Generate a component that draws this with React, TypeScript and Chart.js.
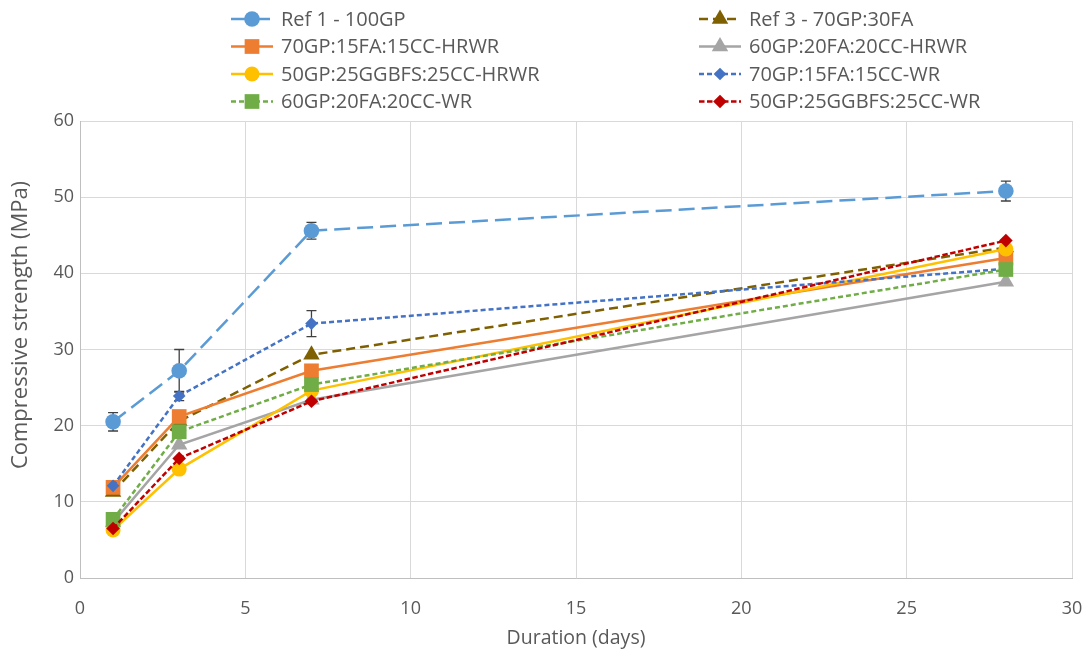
import React, { useEffect, useRef } from 'react';
import { Chart, registerables } from 'chart.js';

Chart.register(...registerables);

// ---------- data ----------
const days = [1, 3, 7, 28];

const seriesNames = [
  'Ref 1 - 100GP',
  'Ref 3 - 70GP:30FA',
  '70GP:15FA:15CC-HRWR',
  '60GP:20FA:20CC-HRWR',
  '50GP:25GGBFS:25CC-HRWR',
  '70GP:15FA:15CC-WR',
  '60GP:20FA:20CC-WR',
  '50GP:25GGBFS:25CC-WR',
];

const ref1 = [20.5, 27.2, 45.6, 50.8];
const ref1Err = [1.2, 2.8, 1.1, 1.3];
const ref3 = [11.3, 20.6, 29.3, 43.4];
const hrwr70 = [11.9, 21.2, 27.2, 42.0];
const hrwr60 = [7.3, 17.5, 23.4, 38.9];
const hrwr50 = [6.3, 14.3, 24.6, 43.2];
const wr70 = [12.1, 23.9, 33.4, 40.6];
const wr70Err = [0.4, 0.6, 1.7, 0.5];
const wr60 = [7.7, 19.2, 25.4, 40.5];
const wr50 = [6.5, 15.7, 23.2, 44.3];

const xTickMax = 30;
const xTickStep = 5;
const yTickMax = 60;
const yTickStep = 10;

const xTitle = 'Duration (days)';
const yTitle = 'Compressive strength (MPa)';

const FONT = "'Open Sans', 'Noto Sans', sans-serif";
const TEXT = '#595959';

type Style = {
  color: string;
  dash: number[];
  point: string;
  radius: number;
};

const styles: Style[] = [
  { color: '#5B9BD5', dash: [16, 7], point: 'circle', radius: 7.8 },
  { color: '#7F6000', dash: [9, 5], point: 'triangle', radius: 9.5 },
  { color: '#ED7D31', dash: [], point: 'rect', radius: 10.4 },
  { color: '#A5A5A5', dash: [], point: 'triangle', radius: 9.5 },
  { color: '#FFC000', dash: [], point: 'circle', radius: 7.5 },
  { color: '#4472C4', dash: [5, 3], point: 'rectRot', radius: 6.3 },
  { color: '#70AD47', dash: [5, 3], point: 'rect', radius: 10.4 },
  { color: '#C00000', dash: [5.5, 2.5], point: 'rectRot', radius: 6.8 },
];

const seriesValues = [ref1, ref3, hrwr70, hrwr60, hrwr50, wr70, wr60, wr50];
const seriesErrors: (number[] | null)[] = [ref1Err, null, null, null, null, wr70Err, null, null];

function drawMarker(ctx: CanvasRenderingContext2D, style: string, x: number, y: number, r: number) {
  ctx.beginPath();
  if (style === 'circle') {
    ctx.arc(x, y, r, 0, Math.PI * 2);
  } else if (style === 'rect') {
    const s = r * Math.SQRT1_2;
    ctx.rect(x - s, y - s, 2 * s, 2 * s);
  } else if (style === 'rectRot') {
    ctx.moveTo(x - r, y);
    ctx.lineTo(x, y - r);
    ctx.lineTo(x + r, y);
    ctx.lineTo(x, y + r);
    ctx.closePath();
  } else if (style === 'triangle') {
    const a = (2 * Math.PI) / 3;
    ctx.moveTo(x, y - r);
    ctx.lineTo(x + Math.sin(a) * r, y - Math.cos(a) * r);
    ctx.lineTo(x + Math.sin(2 * a) * r, y - Math.cos(2 * a) * r);
    ctx.closePath();
  }
  ctx.fill();
}

const errorBarPlugin = {
  id: 'errorBars',
  beforeDatasetsDraw(chart: any) {
    const { ctx, scales } = chart;
    const xs = scales.x;
    const ys = scales.y;
    chart.data.datasets.forEach((ds: any) => {
      if (!ds.errorBars) return;
      ctx.save();
      ctx.strokeStyle = '#404040';
      ctx.lineWidth = 1.3;
      ds.data.forEach((pt: any, j: number) => {
        const e = ds.errorBars[j];
        if (!e) return;
        const px = xs.getPixelForValue(pt.x);
        const top = ys.getPixelForValue(pt.y + e);
        const bot = ys.getPixelForValue(pt.y - e);
        ctx.beginPath();
        ctx.moveTo(px, top);
        ctx.lineTo(px, bot);
        ctx.moveTo(px - 5, top);
        ctx.lineTo(px + 5, top);
        ctx.moveTo(px - 5, bot);
        ctx.lineTo(px + 5, bot);
        ctx.stroke();
      });
      ctx.restore();
    });
  },
};

const yTitlePlugin = {
  id: 'yTitle',
  afterDraw(chart: any) {
    const { ctx } = chart;
    ctx.save();
    ctx.translate(21, 325);
    ctx.rotate(-Math.PI / 2);
    ctx.fillStyle = TEXT;
    ctx.font = `22px ${FONT}`;
    ctx.textAlign = 'center';
    ctx.textBaseline = 'middle';
    ctx.fillText(yTitle, 0, 0);
    ctx.restore();
  },
};

const legendPlugin = {
  id: 'gridLegend',
  afterDraw(chart: any) {
    const { ctx } = chart;
    const cols = [
      { x0: 231, x1: 273, tx: 281 },
      { x0: 699, x1: 741, tx: 749 },
    ];
    const rowY = [19, 46.5, 74, 101.5];
    ctx.save();
    chart.data.datasets.forEach((ds: any, i: number) => {
      const c = cols[i % 2];
      const y = rowY[Math.floor(i / 2)];
      const st = styles[i];
      ctx.strokeStyle = st.color;
      ctx.fillStyle = st.color;
      ctx.lineWidth = 2.5;
      ctx.setLineDash(st.dash);
      ctx.beginPath();
      ctx.moveTo(c.x0, y);
      ctx.lineTo(c.x1, y);
      ctx.stroke();
      ctx.setLineDash([]);
      drawMarker(ctx, st.point, (c.x0 + c.x1) / 2, y, st.radius);
      ctx.fillStyle = TEXT;
      ctx.font = `20px ${FONT}`;
      ctx.textBaseline = 'middle';
      ctx.textAlign = 'left';
      ctx.fillText(ds.label, c.tx, y + 1);
    });
    ctx.restore();
  },
};

export default function App() {
  const canvasRef = useRef<HTMLCanvasElement | null>(null);

  useEffect(() => {
    const canvas = canvasRef.current;
    if (!canvas) return;
    const datasets = seriesNames.map((name, i) => {
      const st = styles[i];
      return {
        label: name,
        data: days.map((d, j) => ({ x: d, y: seriesValues[i][j] })),
        errorBars: seriesErrors[i],
        borderColor: st.color,
        backgroundColor: st.color,
        borderWidth: 2.5,
        borderDash: st.dash,
        pointStyle: st.point,
        pointRadius: st.radius,
        pointBorderWidth: 0,
        pointBackgroundColor: st.color,
        pointBorderColor: st.color,
        tension: 0,
        fill: false,
        clip: false,
        order: seriesNames.length - i,
      } as any;
    });

    const chart = new Chart(canvas, {
      type: 'line',
      data: { datasets },
      plugins: [errorBarPlugin, legendPlugin, yTitlePlugin],
      options: {
        animation: false,
        responsive: true,
        maintainAspectRatio: false,
        layout: { padding: { top: 121, right: 17, left: 0, bottom: 0 } },
        plugins: {
          legend: { display: false },
          tooltip: { enabled: false },
        },
        scales: {
          x: {
            type: 'linear',
            min: 0,
            max: xTickMax,
            ticks: {
              stepSize: xTickStep,
              color: TEXT,
              font: { family: FONT, size: 18 },
              padding: 2,
            },
            grid: {
              color: '#D9D9D9',
              lineWidth: 1,
              drawTicks: true,
              tickLength: 18,
              tickColor: 'rgba(0,0,0,0)',
            },
            border: { color: '#BFBFBF', width: 1 },
            title: {
              display: true,
              text: xTitle,
              color: TEXT,
              font: { family: FONT, size: 19.5 },
              padding: { top: 0, bottom: 2 },
            },
            afterFit(scale: any) {
              scale.height = 74;
            },
          },
          y: {
            type: 'linear',
            min: 0,
            max: yTickMax,
            ticks: {
              stepSize: yTickStep,
              color: TEXT,
              font: { family: FONT, size: 18 },
              padding: 6,
            },
            grid: { color: '#D9D9D9', lineWidth: 1, drawTicks: false },
            border: { color: '#BFBFBF', width: 1 },
            title: { display: false },
            afterFit(scale: any) {
              scale.width = 80;
            },
          },
        },
      } as any,
    });
    return () => chart.destroy();
  }, []);

  return (
    <div style={{ position: 'fixed', left: 0, top: 0, width: 1089, height: 652, background: '#fff' }}>
      <canvas ref={canvasRef} />
    </div>
  );
}
